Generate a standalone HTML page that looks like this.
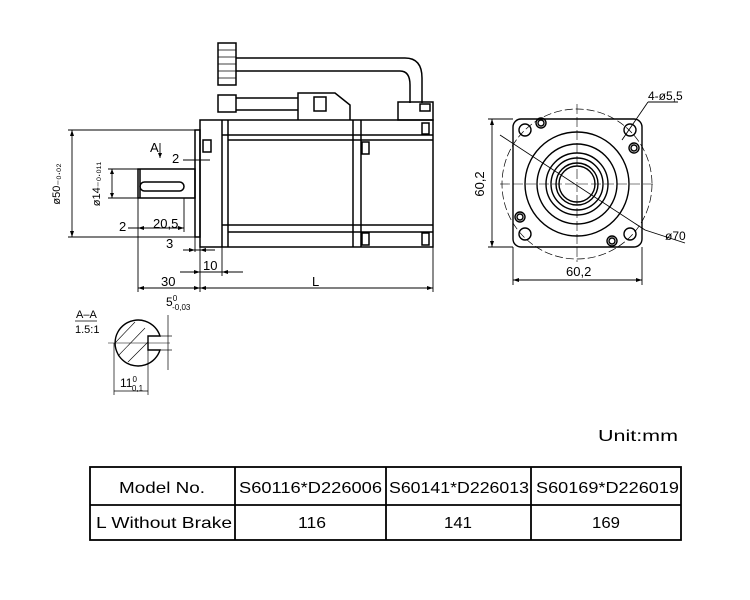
<!DOCTYPE html>
<html><head><meta charset="utf-8"><style>
html,body{margin:0;padding:0;background:#fff;}
svg{display:block;}
text{font-family:"Liberation Sans",sans-serif;fill:#000;}
</style></head><body>
<svg width="750" height="600" viewBox="0 0 750 600" xmlns="http://www.w3.org/2000/svg">
<g fill="none" stroke="#000" stroke-width="1.5">
<!-- connectors -->
<rect x="218" y="43" width="18" height="42"/>
<line x1="218" y1="50" x2="236" y2="50" stroke-width="0.8"/><line x1="218" y1="57" x2="236" y2="57" stroke-width="0.8"/><line x1="218" y1="64" x2="236" y2="64" stroke-width="0.8"/><line x1="218" y1="71" x2="236" y2="71" stroke-width="0.8"/><line x1="218" y1="78" x2="236" y2="78" stroke-width="0.8"/>
<path d="M236 58 H405 Q422 58 422 78 V103"/>
<path d="M236 71 H400 Q410 71 410 85 V103"/>
<rect x="218" y="95" width="18" height="17"/>
<path d="M236 98 H298 M236 110 H298"/>
<path d="M298 120 V93 H335 L350 105 V120"/>
<rect x="314" y="97" width="12" height="14"/>
<rect x="398" y="102" width="35" height="18"/>
<rect x="420" y="104" width="10" height="7"/>
<!-- body -->
<rect x="200" y="120" width="233" height="127"/>
<rect x="195" y="130" width="5" height="107"/>
<line x1="222" y1="120" x2="222" y2="247"/><line x1="228" y1="120" x2="228" y2="247"/>
<line x1="353" y1="120" x2="353" y2="247"/><line x1="361" y1="120" x2="361" y2="247"/>
<line x1="222" y1="135" x2="433" y2="135"/><line x1="228" y1="140" x2="433" y2="140"/>
<line x1="222" y1="225" x2="433" y2="225"/><line x1="228" y1="232" x2="433" y2="232"/>
<rect x="203" y="140" width="8" height="12"/><rect x="362" y="142" width="7" height="12"/>
<rect x="362" y="233" width="7" height="12"/><rect x="422" y="233" width="7" height="12"/><rect x="422" y="123" width="7" height="11"/>
<!-- shaft -->
<rect x="138" y="169" width="57" height="29"/>
<line x1="140" y1="169" x2="140" y2="198"/>
<rect x="140" y="182" width="44" height="9" rx="4.5"/>
</g>
<!-- dims -->
<g fill="none" stroke="#000" stroke-width="0.9">
<line x1="68" y1="130" x2="195" y2="130"/><line x1="68" y1="237" x2="195" y2="237"/><line x1="72" y1="130" x2="72" y2="237"/>
<line x1="108" y1="169" x2="138" y2="169"/><line x1="108" y1="198" x2="138" y2="198"/><line x1="112" y1="169" x2="112" y2="198"/>
<line x1="138" y1="198" x2="138" y2="292"/><line x1="200" y1="237" x2="200" y2="292"/><line x1="222" y1="247" x2="222" y2="276"/><line x1="433" y1="247" x2="433" y2="292"/>
<line x1="184" y1="198" x2="184" y2="232"/><line x1="195" y1="237" x2="195" y2="252"/>
<line x1="128" y1="228" x2="184" y2="228"/>
<line x1="183" y1="250" x2="215" y2="250"/>
<line x1="180" y1="272" x2="243" y2="272"/>
<line x1="138" y1="288" x2="433" y2="288"/>
<line x1="183" y1="160" x2="210" y2="160"/>
<line x1="160" y1="143" x2="160" y2="158"/>
<line x1="492" y1="119" x2="492" y2="247"/><line x1="488" y1="119" x2="513" y2="119"/><line x1="488" y1="247" x2="513" y2="247"/>
<line x1="513" y1="247" x2="513" y2="285"/><line x1="642" y1="247" x2="642" y2="285"/><line x1="513" y1="280" x2="642" y2="280"/>
<line x1="648" y1="102" x2="678" y2="102"/><line x1="648" y1="102" x2="622" y2="140"/>
<line x1="500" y1="135" x2="645" y2="230"/><line x1="645" y1="230" x2="685" y2="243"/>
</g>
<!-- arrowheads -->
<g fill="#000">
<path d="M72 130 l-2 6 h4z M72 237 l-2 -6 h4z M112 169 l-2 5 h4z M112 198 l-2 -5 h4z"/>
<path d="M138 288 l6 -2 v4z M200 288 l-6 -2 v4z M200 288 l6 -2 v4z M433 288 l-6 -2 v4z"/>
<path d="M200 272 l-6 -2 v4z M222 272 l6 -2 v4z M195 250 l-6 -2 v4z M200 250 l6 -2 v4z"/>
<path d="M138 228 l6 -2 v4z M184 228 l-6 -2 v4z M160 158 l-2 -5 h4z"/>
<path d="M492 119 l-2 6 h4z M492 247 l-2 -6 h4z M513 280 l6 -2 v4z M642 280 l-6 -2 v4z"/>
</g>
<g font-size="13">
<text x="60" y="184" transform="rotate(-90 60 184)" text-anchor="middle" font-size="11">ø50₋₀.₀₂</text>
<text x="100" y="184" transform="rotate(-90 100 184)" text-anchor="middle" font-size="11">ø14₋₀.₀₁₁</text>
<text x="150" y="152">A</text>
<text x="172" y="163">2</text>
<text x="119" y="231">2</text>
<text x="153" y="228">20,5</text>
<text x="166" y="248">3</text>
<text x="203" y="270">10</text>
<text x="161" y="286">30</text>
<text x="312" y="286">L</text>
<text x="484" y="184" transform="rotate(-90 484 184)" text-anchor="middle">60,2</text>
<text x="566" y="276">60,2</text>
<text x="648" y="100" font-size="12">4-ø5,5</text>
<text x="665" y="240" font-size="12">ø70</text>
</g>
<!-- end view -->
<g fill="none" stroke="#000" stroke-width="1.4">
<rect x="513" y="119" width="129" height="128" rx="8"/>
<circle cx="577" cy="184" r="75" stroke-dasharray="8 3" stroke-width="0.7"/>
<circle cx="577" cy="184" r="52"/><circle cx="577" cy="184" r="40"/><circle cx="577" cy="184" r="31"/><circle cx="577" cy="184" r="26"/><circle cx="577" cy="184" r="21"/><circle cx="577" cy="184" r="18"/>
<circle cx="525" cy="130" r="6"/><circle cx="630" cy="130" r="6"/><circle cx="525" cy="234" r="6"/><circle cx="630" cy="234" r="6"/>
<circle cx="541" cy="123" r="5"/><circle cx="541" cy="123" r="3"/>
<circle cx="634" cy="148" r="5"/><circle cx="634" cy="148" r="3"/>
<circle cx="520" cy="217" r="5"/><circle cx="520" cy="217" r="3"/>
<circle cx="612" cy="241" r="5"/><circle cx="612" cy="241" r="3"/>
<line x1="577" y1="104" x2="577" y2="262" stroke-width="0.6" stroke-dasharray="10 3"/>
<line x1="500" y1="184" x2="655" y2="184" stroke-width="0.6" stroke-dasharray="10 3"/>
</g>
<!-- section A-A -->
<g fill="none" stroke="#000" stroke-width="1.4">
<path d="M160 336 A23 23 0 1 0 160 350 H148 V336 Z"/>
<line x1="108" y1="343" x2="170" y2="343" stroke-width="0.6"/>
<line x1="115" y1="343" x2="135" y2="322" stroke-width="0.6"/><line x1="118" y1="356" x2="145" y2="328" stroke-width="0.6"/><line x1="128" y1="362" x2="148" y2="342" stroke-width="0.6"/>
<line x1="160" y1="336" x2="172" y2="336" stroke-width="0.7"/><line x1="160" y1="350" x2="172" y2="350" stroke-width="0.7"/><line x1="168" y1="315" x2="168" y2="370" stroke-width="0.7"/>
<line x1="114" y1="343" x2="114" y2="395" stroke-width="0.7"/><line x1="148" y1="350" x2="148" y2="395" stroke-width="0.7"/><line x1="114" y1="391" x2="148" y2="391" stroke-width="0.7"/>
<line x1="75" y1="321" x2="97" y2="321" stroke-width="0.8"/>
</g>
<text x="76" y="318" font-size="11">A–A</text>
<text x="75" y="333" font-size="11">1.5:1</text>
<text x="166" y="306" font-size="12">5<tspan font-size="8" dy="-5">0</tspan><tspan font-size="8" dx="-5" dy="9">-0,03</tspan></text>
<text x="120" y="387" font-size="12">11<tspan font-size="8" dy="-5">0</tspan><tspan font-size="8" dx="-5" dy="9">0,1</tspan></text>
<!-- table -->
<text x="598" y="441" font-size="16" textLength="80" lengthAdjust="spacingAndGlyphs">Unit:mm</text>
<g fill="none" stroke="#000" stroke-width="1.8">
<rect x="90" y="467" width="591" height="73"/>
<line x1="90" y1="505" x2="681" y2="505"/>
<line x1="235" y1="467" x2="235" y2="540"/><line x1="386" y1="467" x2="386" y2="540"/><line x1="531" y1="467" x2="531" y2="540"/>
</g>
<g font-size="16">
<text x="119" y="493" textLength="86" lengthAdjust="spacingAndGlyphs">Model  No.</text>
<text x="239" y="493" textLength="143" lengthAdjust="spacingAndGlyphs">S60116*D226006</text>
<text x="389" y="493" textLength="140" lengthAdjust="spacingAndGlyphs">S60141*D226013</text>
<text x="536" y="493" textLength="143" lengthAdjust="spacingAndGlyphs">S60169*D226019</text>
<text x="96" y="528" textLength="136" lengthAdjust="spacingAndGlyphs">L  Without Brake</text>
<text x="298" y="528" textLength="28" lengthAdjust="spacingAndGlyphs">116</text>
<text x="444" y="528" textLength="28" lengthAdjust="spacingAndGlyphs">141</text>
<text x="592" y="528" textLength="28" lengthAdjust="spacingAndGlyphs">169</text>
</g>
</svg>
</body></html>
